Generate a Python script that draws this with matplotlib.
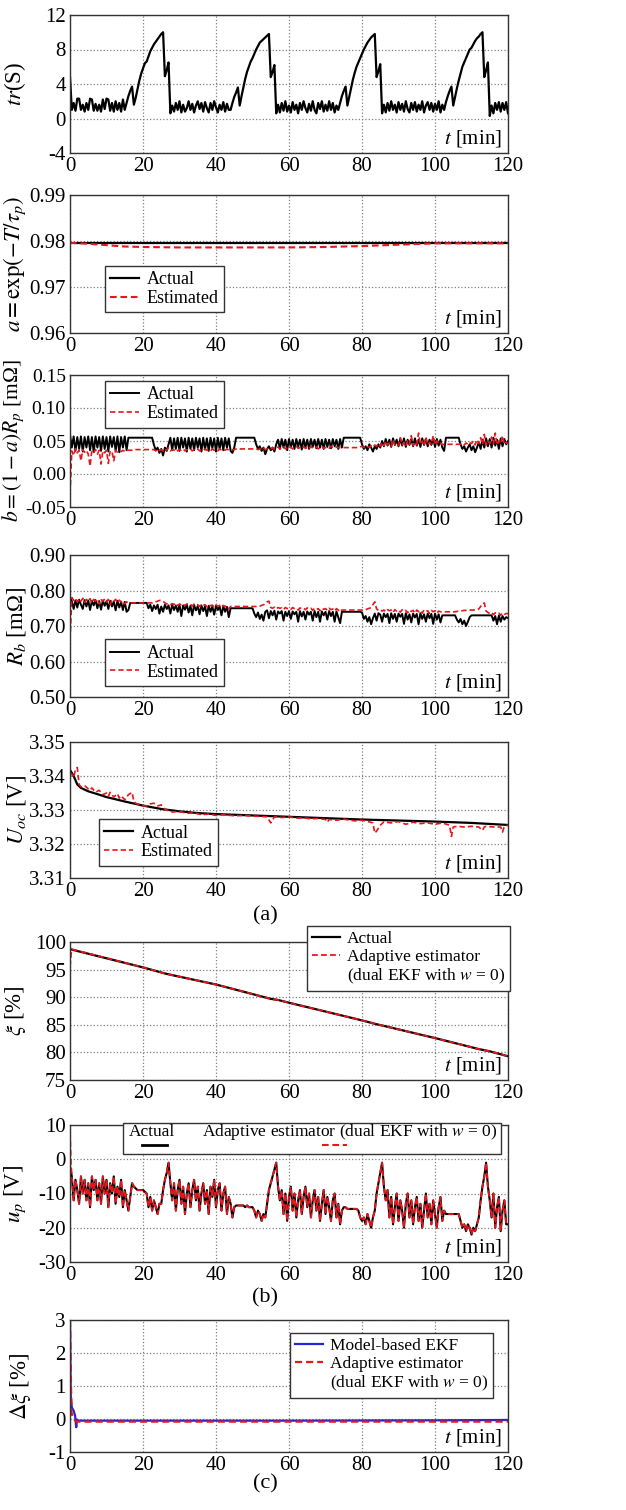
import numpy as np
import matplotlib
matplotlib.use('Agg')
from matplotlib import pyplot as plt
from matplotlib.ticker import FormatStrFormatter
from matplotlib.patches import Rectangle
from matplotlib.lines import Line2D

matplotlib.rcParams.update({'font.family': ['Liberation Serif', 'DejaVu Serif'],
                            'mathtext.fontset': 'stix',
                            'font.size': 15,
                            'axes.unicode_minus': False})

RED = '#e8151b'
BLUE = '#2424d8'
DASH = (0, (3.2, 1.8))

# time grid for the densely sampled traces (every 0.5 min)
t_half = np.arange(241) * 0.5

# tr(S), one row = 5 min
tr_s = [4.8, 1.0, 1.8, 0.9, 2.3, 2.3, 1.0, 1.6, 0.8, 1.8,
        1.0, 2.3, 2.2, 0.9, 1.7, 0.9, 1.6, 0.8, 2.2, 1.1,
        2.3, 2.2, 0.9, 1.8, 0.8, 2.0, 1.0, 1.8, 0.8, 2.2,
        1.0, 1.8, 2.6, 3.2, 3.7, 1.6, 2.4, 3.4, 4.4, 5.2,
        5.8, 6.4, 6.6, 7.2, 7.8, 8.2, 8.6, 8.9, 9.2, 9.5,
        9.8, 10.0, 4.9, 5.6, 6.5, 0.6, 1.5, 0.8, 1.8, 1.0,
        2.0, 0.7, 1.6, 0.8, 1.2, 2.0, 1.0, 1.7, 0.7, 1.5,
        2.0, 1.1, 1.8, 0.8, 1.9, 1.2, 0.7, 1.8, 1.0, 2.0,
        1.3, 0.7, 1.6, 1.0, 1.9, 0.8, 1.7, 1.0, 1.0, 1.8,
        2.5, 3.0, 3.6, 1.5, 2.6, 3.6, 4.6, 5.4, 6.0, 6.6,
        7.0, 7.5, 8.0, 8.4, 8.8, 9.0, 9.2, 9.4, 9.6, 9.8,
        4.8, 5.4, 6.2, 0.6, 1.6, 0.7, 1.8, 0.9, 2.0, 0.8,
        1.5, 0.7, 1.9, 1.0, 1.6, 0.6, 1.8, 1.0, 2.0, 1.2,
        0.7, 1.7, 0.9, 2.0, 1.0, 0.6, 1.8, 1.1, 2.0, 0.8,
        1.6, 0.9, 2.0, 1.0, 1.8, 0.7, 1.5, 1.0, 1.8, 2.6,
        3.2, 3.7, 1.5, 2.5, 3.5, 4.5, 5.3, 6.0, 6.5, 7.0,
        7.5, 8.0, 8.4, 8.8, 9.1, 9.4, 9.6, 9.8, 4.8, 5.5,
        6.3, 0.6, 1.6, 0.7, 1.8, 0.9, 2.0, 1.0, 1.6, 0.7,
        1.9, 1.0, 1.7, 0.8, 2.0, 1.1, 0.7, 1.8, 1.0, 1.9,
        0.8, 1.6, 1.0, 2.0, 0.7, 1.5, 1.9, 1.0, 1.8, 0.8,
        1.7, 1.0, 2.0, 0.7, 1.6, 1.0, 1.9, 2.6, 3.2, 3.7,
        1.5, 2.5, 3.5, 4.4, 5.2, 6.0, 6.5, 7.0, 7.5, 8.0,
        8.2, 8.6, 9.0, 9.3, 9.5, 9.8, 10.0, 4.8, 5.6, 6.5,
        0.3, 1.5, 0.6, 1.8, 1.0, 1.9, 0.8, 1.8, 1.0, 1.9,
        0.6]

# a = exp(-T/tau_p)
a_act = [(0, 0.9796), (120, 0.9796)]
a_est = [(0, 0.9796), (5, 0.9794), (10, 0.9791), (15, 0.9788), (20, 0.9787), (30, 0.9786),
         (40, 0.9786), (50, 0.9786), (60, 0.9786), (70, 0.9787), (80, 0.9789), (90, 0.9792),
         (100, 0.9795), (110, 0.9795), (120, 0.9795)]

# b = (1-a)Rp [mOhm]
b_act = [0.060, 0.040, 0.057, 0.035, 0.056, 0.038, 0.057, 0.034, 0.056, 0.040,
         0.057, 0.036, 0.056, 0.033, 0.057, 0.040, 0.056, 0.035, 0.057, 0.038,
         0.056, 0.034, 0.057, 0.041, 0.056, 0.035, 0.057, 0.033, 0.056, 0.040,
         0.057, 0.036, 0.055, 0.055, 0.055, 0.055, 0.055, 0.055, 0.055, 0.055,
         0.055, 0.055, 0.055, 0.055, 0.055, 0.055, 0.044, 0.036, 0.040, 0.032,
         0.038, 0.028, 0.040, 0.035, 0.045, 0.055, 0.036, 0.054, 0.038, 0.055,
         0.035, 0.055, 0.040, 0.054, 0.034, 0.055, 0.038, 0.054, 0.036, 0.055,
         0.040, 0.054, 0.034, 0.055, 0.037, 0.054, 0.035, 0.055, 0.039, 0.054,
         0.034, 0.055, 0.038, 0.054, 0.036, 0.055, 0.040, 0.054, 0.035, 0.032,
         0.040, 0.055, 0.055, 0.055, 0.055, 0.055, 0.055, 0.055, 0.055, 0.055,
         0.055, 0.055, 0.045, 0.038, 0.042, 0.035, 0.040, 0.030, 0.038, 0.042,
         0.036, 0.040, 0.034, 0.045, 0.052, 0.038, 0.053, 0.040, 0.052, 0.036,
         0.053, 0.040, 0.052, 0.038, 0.053, 0.041, 0.052, 0.037, 0.053, 0.040,
         0.052, 0.038, 0.053, 0.041, 0.052, 0.039, 0.053, 0.040, 0.052, 0.038,
         0.053, 0.041, 0.052, 0.039, 0.053, 0.042, 0.052, 0.038, 0.053, 0.040,
         0.055, 0.055, 0.055, 0.055, 0.055, 0.055, 0.055, 0.055, 0.055, 0.055,
         0.045, 0.038, 0.042, 0.036, 0.045, 0.040, 0.034, 0.042, 0.038, 0.045,
         0.040, 0.050, 0.042, 0.053, 0.043, 0.052, 0.041, 0.054, 0.044, 0.052,
         0.042, 0.053, 0.043, 0.054, 0.041, 0.052, 0.044, 0.053, 0.042, 0.054,
         0.043, 0.052, 0.041, 0.054, 0.044, 0.053, 0.042, 0.052, 0.044, 0.054,
         0.041, 0.053, 0.043, 0.052, 0.040, 0.035, 0.055, 0.055, 0.055, 0.055,
         0.055, 0.055, 0.055, 0.055, 0.045, 0.038, 0.042, 0.034, 0.040, 0.045,
         0.036, 0.042, 0.033, 0.040, 0.048, 0.038, 0.052, 0.040, 0.054, 0.042,
         0.053, 0.040, 0.055, 0.043, 0.052, 0.038, 0.054, 0.042, 0.053, 0.045,
         0.050]
b_est = [-0.030, 0.035, 0.028, 0.038, 0.032, 0.036, 0.020, 0.037, 0.033, 0.036,
         0.030, 0.012, 0.036, 0.033, 0.037, 0.030, 0.036, 0.015, 0.035, 0.032,
         0.036, 0.016, 0.035, 0.034, 0.020, 0.036, 0.033, 0.035, 0.034, 0.036,
         0.034, 0.036, 0.036, 0.036, 0.036, 0.036, 0.037, 0.037, 0.037, 0.037,
         0.037, 0.037, 0.037, 0.037, 0.037, 0.037, 0.037, 0.035, 0.038, 0.036,
         0.037, 0.035, 0.038, 0.036, 0.040, 0.035, 0.037, 0.036, 0.038, 0.035,
         0.037, 0.036, 0.038, 0.035, 0.037, 0.036, 0.038, 0.035, 0.037, 0.036,
         0.038, 0.035, 0.037, 0.036, 0.038, 0.036, 0.037, 0.035, 0.038, 0.036,
         0.037, 0.035, 0.038, 0.036, 0.037, 0.036, 0.038, 0.036, 0.037, 0.037,
         0.037, 0.038, 0.038, 0.038, 0.038, 0.038, 0.038, 0.038, 0.038, 0.038,
         0.038, 0.038, 0.038, 0.037, 0.038, 0.036, 0.039, 0.037, 0.038, 0.039,
         0.038, 0.040, 0.037, 0.039, 0.041, 0.038, 0.040, 0.042, 0.038, 0.040,
         0.039, 0.041, 0.038, 0.040, 0.042, 0.039, 0.040, 0.038, 0.041, 0.039,
         0.040, 0.038, 0.042, 0.039, 0.040, 0.041, 0.038, 0.040, 0.042, 0.039,
         0.040, 0.041, 0.039, 0.042, 0.040, 0.039, 0.041, 0.040, 0.040, 0.040,
         0.040, 0.040, 0.040, 0.040, 0.040, 0.040, 0.040, 0.040, 0.040, 0.041,
         0.042, 0.040, 0.041, 0.042, 0.040, 0.043, 0.041, 0.044, 0.042, 0.046,
         0.042, 0.048, 0.043, 0.050, 0.044, 0.047, 0.042, 0.052, 0.044, 0.046,
         0.043, 0.055, 0.044, 0.048, 0.042, 0.050, 0.045, 0.058, 0.043, 0.047,
         0.044, 0.062, 0.045, 0.050, 0.043, 0.056, 0.044, 0.048, 0.045, 0.058,
         0.044, 0.050, 0.046, 0.048, 0.044, 0.045, 0.045, 0.045, 0.045, 0.045,
         0.045, 0.045, 0.045, 0.045, 0.045, 0.046, 0.044, 0.047, 0.045, 0.048,
         0.046, 0.050, 0.044, 0.052, 0.046, 0.055, 0.045, 0.060, 0.044, 0.050,
         0.046, 0.056, 0.045, 0.062, 0.044, 0.050, 0.046, 0.058, 0.045, 0.048,
         0.046]

# Rb [mOhm]
rb_act = [0.780, 0.770, 0.748, 0.772, 0.752, 0.774, 0.760, 0.748, 0.773, 0.755,
          0.772, 0.745, 0.771, 0.758, 0.773, 0.750, 0.770, 0.746, 0.772, 0.757,
          0.770, 0.748, 0.771, 0.755, 0.769, 0.744, 0.771, 0.752, 0.768, 0.745,
          0.768, 0.740, 0.745, 0.765, 0.765, 0.765, 0.765, 0.765, 0.765, 0.765,
          0.765, 0.765, 0.765, 0.750, 0.760, 0.742, 0.758, 0.748, 0.760, 0.735,
          0.755, 0.740, 0.760, 0.748, 0.758, 0.735, 0.760, 0.745, 0.758, 0.740,
          0.760, 0.728, 0.758, 0.746, 0.760, 0.738, 0.757, 0.730, 0.759, 0.744,
          0.756, 0.733, 0.758, 0.742, 0.756, 0.728, 0.757, 0.740, 0.755, 0.732,
          0.757, 0.745, 0.755, 0.730, 0.756, 0.740, 0.754, 0.725, 0.750, 0.750,
          0.750, 0.750, 0.750, 0.750, 0.750, 0.750, 0.750, 0.750, 0.750, 0.750,
          0.750, 0.735, 0.725, 0.738, 0.720, 0.732, 0.715, 0.740, 0.744, 0.722,
          0.742, 0.730, 0.743, 0.718, 0.741, 0.735, 0.742, 0.715, 0.740, 0.728,
          0.742, 0.720, 0.741, 0.733, 0.740, 0.712, 0.742, 0.727, 0.740, 0.718,
          0.741, 0.732, 0.740, 0.715, 0.742, 0.725, 0.740, 0.712, 0.741, 0.730,
          0.740, 0.718, 0.742, 0.728, 0.740, 0.712, 0.741, 0.725, 0.708, 0.740,
          0.740, 0.740, 0.740, 0.740, 0.740, 0.740, 0.740, 0.740, 0.740, 0.740,
          0.738, 0.720, 0.728, 0.712, 0.725, 0.705, 0.722, 0.735, 0.715, 0.736,
          0.732, 0.712, 0.735, 0.725, 0.734, 0.708, 0.736, 0.720, 0.734, 0.712,
          0.735, 0.726, 0.734, 0.706, 0.736, 0.718, 0.733, 0.710, 0.735, 0.724,
          0.734, 0.705, 0.736, 0.720, 0.733, 0.712, 0.735, 0.722, 0.734, 0.706,
          0.735, 0.718, 0.733, 0.710, 0.730, 0.730, 0.730, 0.730, 0.730, 0.730,
          0.730, 0.730, 0.718, 0.710, 0.720, 0.705, 0.715, 0.700, 0.712, 0.725,
          0.730, 0.730, 0.730, 0.730, 0.730, 0.730, 0.730, 0.730, 0.730, 0.730,
          0.730, 0.730, 0.715, 0.728, 0.705, 0.730, 0.712, 0.728, 0.718, 0.725,
          0.722]
rb_est = [0.660, 0.780, 0.772, 0.778, 0.768, 0.776, 0.770, 0.778, 0.766, 0.775,
          0.770, 0.777, 0.765, 0.775, 0.770, 0.776, 0.762, 0.774, 0.770, 0.776,
          0.768, 0.775, 0.760, 0.774, 0.770, 0.775, 0.765, 0.773, 0.768, 0.770,
          0.762, 0.768, 0.765, 0.765, 0.765, 0.765, 0.765, 0.765, 0.765, 0.765,
          0.765, 0.765, 0.765, 0.765, 0.765, 0.765, 0.766, 0.768, 0.770, 0.772,
          0.772, 0.770, 0.765, 0.762, 0.764, 0.760, 0.763, 0.761, 0.764, 0.758,
          0.762, 0.760, 0.763, 0.757, 0.762, 0.760, 0.761, 0.756, 0.762, 0.759,
          0.760, 0.755, 0.761, 0.758, 0.760, 0.754, 0.760, 0.757, 0.759, 0.753,
          0.759, 0.756, 0.758, 0.752, 0.758, 0.755, 0.757, 0.748, 0.755, 0.755,
          0.755, 0.755, 0.755, 0.755, 0.755, 0.755, 0.755, 0.755, 0.755, 0.755,
          0.755, 0.755, 0.755, 0.755, 0.756, 0.758, 0.760, 0.762, 0.768, 0.770,
          0.752, 0.750, 0.753, 0.748, 0.752, 0.750, 0.751, 0.746, 0.752, 0.749,
          0.751, 0.747, 0.752, 0.749, 0.750, 0.745, 0.751, 0.748, 0.750, 0.746,
          0.751, 0.748, 0.750, 0.744, 0.750, 0.747, 0.749, 0.743, 0.750, 0.747,
          0.749, 0.744, 0.750, 0.746, 0.748, 0.742, 0.749, 0.745, 0.740, 0.745,
          0.745, 0.745, 0.745, 0.745, 0.745, 0.745, 0.745, 0.745, 0.745, 0.745,
          0.745, 0.745, 0.746, 0.748, 0.750, 0.752, 0.760, 0.768, 0.748, 0.744,
          0.746, 0.742, 0.745, 0.740, 0.746, 0.743, 0.745, 0.738, 0.746, 0.742,
          0.745, 0.739, 0.746, 0.742, 0.744, 0.737, 0.745, 0.741, 0.744, 0.736,
          0.745, 0.740, 0.744, 0.736, 0.745, 0.741, 0.743, 0.735, 0.744, 0.740,
          0.743, 0.736, 0.742, 0.740, 0.740, 0.740, 0.740, 0.740, 0.740, 0.740,
          0.740, 0.740, 0.741, 0.742, 0.742, 0.743, 0.744, 0.744, 0.745, 0.745,
          0.745, 0.745, 0.745, 0.746, 0.748, 0.755, 0.762, 0.765, 0.742, 0.738,
          0.735, 0.738, 0.732, 0.737, 0.734, 0.736, 0.730, 0.737, 0.733, 0.735,
          0.735]

# Uoc [V]
uoc_act = [(0, 3.3418), (1, 3.3400), (2, 3.3375), (3, 3.3365), (5, 3.3355), (8, 3.3345),
           (10, 3.3338), (15, 3.3325), (20, 3.3313), (25, 3.3303), (30, 3.3296), (35, 3.3291),
           (40, 3.3288), (50, 3.3284), (60, 3.3280), (70, 3.3276), (80, 3.3272), (90, 3.3269),
           (100, 3.3266), (110, 3.3262), (120, 3.3256)]
uoc_est = [(0, 3.3410), (0.5, 3.3405), (1, 3.3395), (1.5, 3.3420), (2, 3.3425), (2.5, 3.3375),
           (3, 3.3368), (4, 3.3372), (5, 3.3362), (5.5, 3.3358), (6, 3.3365), (7, 3.3352),
           (8, 3.3358), (9, 3.3345), (10, 3.3350), (10.5, 3.3340), (11, 3.3352), (12, 3.3338),
           (13, 3.3348), (13.5, 3.3335), (14, 3.3342), (15, 3.3330), (16, 3.3345), (17, 3.3352),
           (17.5, 3.3325), (18, 3.3320), (19, 3.3315), (20, 3.3312), (21, 3.3312), (22, 3.3318),
           (23, 3.3320), (24, 3.3312), (25, 3.3315), (26, 3.3302), (27, 3.3298), (28, 3.3294),
           (30, 3.3296), (32, 3.3290), (34, 3.3292), (36, 3.3286), (38, 3.3288), (40, 3.3284),
           (42, 3.3286), (45, 3.3283), (48, 3.3284), (50, 3.3282), (52, 3.3281), (54, 3.3280),
           (55, 3.3262), (55.5, 3.3270), (56, 3.3280), (58, 3.3278), (60, 3.3280), (62, 3.3276),
           (64, 3.3277), (66, 3.3274), (68, 3.3275), (70, 3.3272), (70.5, 3.3264), (71, 3.3272),
           (73, 3.3270), (75, 3.3273), (78, 3.3268), (80, 3.3270), (82, 3.3265), (83, 3.3262),
           (83.5, 3.3232), (84, 3.3238), (85, 3.3255), (86, 3.3265), (88, 3.3262), (90, 3.3266),
           (92, 3.3258), (94, 3.3264), (96, 3.3260), (98, 3.3262), (100, 3.3258), (102, 3.3262),
           (104, 3.3255), (104.5, 3.3222), (105, 3.3250), (106, 3.3252), (108, 3.3250),
           (110, 3.3252), (112, 3.3250), (113, 3.3240), (113.5, 3.3250), (114, 3.3252),
           (116, 3.3250), (118, 3.3250), (118.5, 3.3235), (119, 3.3252), (120, 3.3255)]

# SOC xi [%]
xi_act = [(0, 98.7), (20, 95.4), (26, 94.3), (28, 94.0), (40, 92.3), (55, 89.7), (57, 89.5),
          (60, 89.0), (80, 85.8), (84, 85.1), (86, 84.8), (100, 82.6), (112, 80.6),
          (115, 80.2), (120, 79.3)]
xi_est = [(0, 95.5), (0.4, 98.7), (20, 95.4), (26, 94.3), (28, 94.0), (40, 92.3), (55, 89.7),
          (57, 89.5), (60, 89.0), (80, 85.8), (84, 85.1), (86, 84.8), (100, 82.6),
          (112, 80.6), (115, 80.2), (120, 79.3)]

# up [V]
up_act = [-2, -5, -12, -6, -9, -13, -5, -10, -6, -12,
          -7, -14, -5, -9, -6, -12, -7, -13, -5, -10,
          -6, -14, -7, -10, -5, -13, -8, -11, -6, -14,
          -9, -12, -15, -11, -7, -8, -8.5, -9, -9, -9,
          -9, -9.5, -10, -14, -11, -15, -12, -14, -16, -13,
          -13, -9, -6, -4, -1, -7, -12, -7, -15, -9,
          -6, -13, -8, -16, -10, -7, -14, -9, -6, -12,
          -8, -15, -10, -7, -13, -9, -16, -8, -11, -6,
          -14, -9, -7, -15, -10, -8, -16, -11, -13, -17,
          -14, -13.5, -13.5, -13.5, -13.5, -13.5, -14, -13.5, -14, -14,
          -14, -15, -17, -15, -16, -18, -16, -17, -13, -9,
          -7, -5, -3, -1, -8, -12, -9, -16, -10, -18,
          -11, -8, -15, -10, -17, -12, -9, -16, -11, -8,
          -14, -10, -17, -12, -9, -15, -11, -18, -13, -9,
          -16, -11, -14, -18, -12, -10, -17, -13, -19, -15,
          -14, -14, -14.5, -14.5, -14.5, -14.5, -14.5, -14.5, -15, -17,
          -18, -17, -19, -16, -18, -20, -17, -15, -10, -7,
          -4, -1, -8, -12, -9, -17, -11, -19, -14, -10,
          -18, -12, -15, -20, -13, -10, -17, -12, -19, -14,
          -11, -18, -13, -20, -15, -10, -17, -13, -19, -12,
          -16, -20, -14, -11, -18, -15, -16, -16, -16, -16,
          -16, -16, -16, -16, -18, -20, -19, -21, -19, -20,
          -22, -20, -21, -19, -17, -12, -8, -5, -1, -8,
          -12, -17, -10, -20, -14, -11, -21, -15, -12, -19,
          -19]
# adaptive estimate: initial transient, then it tracks the actual trace
up_est_head = [(0, 8.0), (0.25, -1.0)]

# SOC error [%]
dxi_ekf = [(0, 3.0), (0.2, 0.7), (0.5, 0.35), (1.0, 0.25), (1.4, 0.1), (1.7, -0.25),
           (1.9, -0.02), (2.3, -0.05), (20, -0.05), (60, -0.05), (100, -0.04), (120, -0.03)]
dxi_adapt = [(0, 3.0), (0.4, 0.2), (0.8, 0.05), (1.5, -0.06), (2, -0.08), (120, -0.08)]


def xy(pairs):
    return [p[0] for p in pairs], [p[1] for p in pairs]


W, H = 626.0, 1510.0
fig = plt.figure(figsize=(W / 100, H / 100), dpi=100)
panels = [(15, 153), (195, 333), (375, 507), (555, 697), (742, 878), (942, 1080),
          (1125, 1262), (1320, 1452)]


def make_ax(top, bottom, ylim, yticks, fmt, ylabel, lab_x=-0.097, lab_size=16.5):
    ax = fig.add_axes([70 / W, 1 - bottom / H, 438 / W, (bottom - top) / H])
    ax.set_xlim(0, 120)
    ax.set_xticks(range(0, 121, 20))
    ax.set_ylim(*ylim)
    ax.set_yticks(yticks)
    ax.yaxis.set_major_formatter(FormatStrFormatter(fmt))
    ax.grid(True, linestyle=':', color='#808080', linewidth=0.9)
    ax.tick_params(direction='in', length=0, pad=3)
    for s in ax.spines.values():
        s.set_color('#333333')
        s.set_linewidth(1.0)
    ax.text(0.985, 0.03, '$t$ [min]', transform=ax.transAxes, ha='right', va='bottom')
    ax.set_ylabel(ylabel, fontsize=lab_size)
    ax.yaxis.set_label_coords(lab_x, 0.5)
    return ax


def leg(ax, loc, anchor, handles=None, labels=None, size=13):
    kw = dict(loc=loc, bbox_to_anchor=anchor, fontsize=size, fancybox=False,
              edgecolor='#333333', framealpha=1, handlelength=1.6, handletextpad=0.4,
              borderpad=0.3, labelspacing=0.1, borderaxespad=0)
    if handles is None:
        lg = ax.legend(**kw)
    else:
        lg = ax.legend(handles, labels, **kw)
    lg.get_frame().set_linewidth(1.0)
    lg.set_zorder(10)
    return lg


# tr(S)
ax = make_ax(*panels[0], (-4, 12), [-4, 0, 4, 8, 12], '%d', '$tr$(S)')
ax.plot(t_half, tr_s, color='k', lw=1.6)

# a
ax = make_ax(*panels[1], (0.96, 0.99), [0.96, 0.97, 0.98, 0.99], '%.2f',
             r'$a = \exp(-T/\tau_p)$')
ax.plot(*xy(a_act), color='k', lw=1.6, label='Actual')
ax.plot(*xy(a_est), color=RED, lw=1.5, ls=DASH, label='Estimated')
leg(ax, 'lower left', (0.08, 0.15))

# b
ax = make_ax(*panels[2], (-0.05, 0.15), [-0.05, 0, 0.05, 0.10, 0.15], '%.2f',
             '$b = (1-a)R_p$ [mΩ]', lab_x=-0.1, lab_size=15.5)
ax.tick_params(axis='y', labelsize=14)
ax.plot(t_half, b_act, color='k', lw=1.4, label='Actual')
ax.plot(t_half, b_est, color=RED, lw=1.2, ls=DASH, label='Estimated')
leg(ax, 'upper left', (0.08, 0.955))

# Rb
ax = make_ax(*panels[3], (0.5, 0.9), [0.5, 0.6, 0.7, 0.8, 0.9], '%.2f', '$R_b$ [mΩ]')
ax.plot(t_half, rb_act, color='k', lw=1.4, label='Actual')
ax.plot(t_half, rb_est, color=RED, lw=1.2, ls=DASH, label='Estimated')
leg(ax, 'lower left', (0.08, 0.077))

# Uoc
ax = make_ax(*panels[4], (3.31, 3.35), [3.31, 3.32, 3.33, 3.34, 3.35], '%.2f',
             '$U_{oc}$ [V]')
ax.plot(*xy(uoc_act), color='k', lw=1.6, label='Actual')
ax.plot(*xy(uoc_est), color=RED, lw=1.2, ls=DASH, label='Estimated')
leg(ax, 'lower left', (0.066, 0.09))

blank = Line2D([], [], color='none')

# xi
ax = make_ax(*panels[5], (75, 100), [75, 80, 85, 90, 95, 100], '%d', r'$\xi$ [%]')
h1, = ax.plot(*xy(xi_act), color='k', lw=1.6)
h2, = ax.plot(*xy(xi_est), color=RED, lw=1.3, ls=DASH)
leg(ax, 'upper right', (1.005, 1.116), [h1, h2, blank],
    ['Actual', 'Adaptive estimator', '(dual EKF with $w$ = 0)'], size=12.5)

# up
ax = make_ax(*panels[6], (-30, 10), [-30, -20, -10, 0, 10], '%d', '$u_p$ [V]')
ax.plot(t_half, up_act, color='k', lw=1.5)
est_t = [p[0] for p in up_est_head] + list(t_half[1:])
est_v = [p[1] for p in up_est_head] + list(up_act[1:])
ax.plot(est_t, est_v, color=RED, lw=1.3, ls=DASH)
# legend drawn as in the original: labels on one row, line samples below them
ax.add_patch(Rectangle((0.121, 0.788), 0.863, 0.227, transform=ax.transAxes,
                       facecolor='white', edgecolor='#333333', lw=1.0, clip_on=False,
                       zorder=8))
ax.text(0.135, 0.95, 'Actual', transform=ax.transAxes, fontsize=12.5, ha='left',
        va='center', zorder=9)
ax.text(0.975, 0.95, 'Adaptive estimator (dual EKF with $w$ = 0)', transform=ax.transAxes,
        fontsize=12.5, ha='right', va='center', zorder=9)
ax.add_line(Line2D([0.164, 0.221], [0.852, 0.852], transform=ax.transAxes, color='k',
                   lw=2.0, clip_on=False, zorder=9))
ax.add_line(Line2D([0.575, 0.632], [0.852, 0.852], transform=ax.transAxes, color=RED,
                   lw=1.5, ls=DASH, clip_on=False, zorder=9))

# delta xi
ax = make_ax(*panels[7], (-1, 3), [-1, 0, 1, 2, 3], '%d', r'$\Delta\xi$ [%]', lab_x=-0.085)
h1, = ax.plot(*xy(dxi_ekf), color=BLUE, lw=1.6)
h2, = ax.plot(*xy(dxi_adapt), color=RED, lw=1.6, ls=DASH)
leg(ax, 'upper right', (0.966, 0.905), [h1, h2, blank],
    ['Model-based EKF', 'Adaptive estimator', '(dual EKF with $w$ = 0)'], size=12.5)

for lab, yy in [('(a)', 916), ('(b)', 1298), ('(c)', 1484)]:
    fig.text(265 / W, 1 - yy / H, lab, ha='center', va='center', fontsize=16)

fig.savefig('out.png', dpi=100)
